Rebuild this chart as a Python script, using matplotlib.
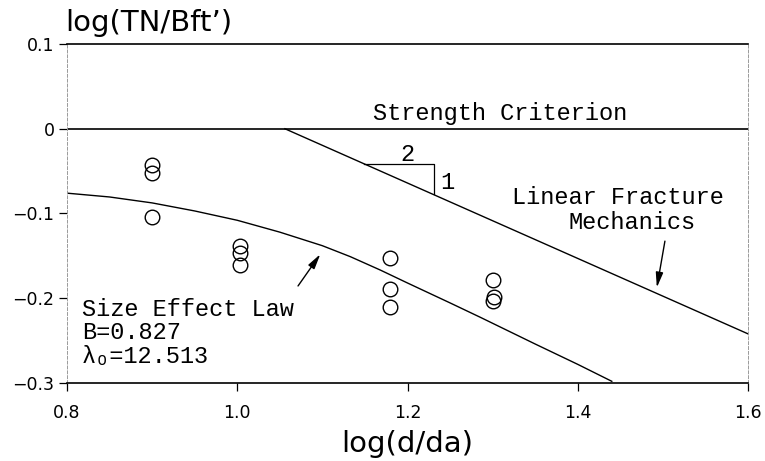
import matplotlib
matplotlib.use("Agg")
import matplotlib.pyplot as plt
from matplotlib.ticker import FixedLocator, FixedFormatter

# ---- data ----
x_tests = [0.9, 0.9, 0.9, 1.003, 1.003, 1.003, 1.179, 1.179, 1.179, 1.300, 1.302, 1.301]
y_tests = [-0.0425, -0.052, -0.104, -0.138, -0.147, -0.161, -0.1525, -0.189, -0.210, -0.178, -0.1985, -0.203]

sel_x = [0.80, 0.85, 0.90, 0.95, 1.00, 1.05, 1.10, 1.133, 1.168, 1.20, 1.25, 1.286, 1.35, 1.40, 1.44]
sel_y = [-0.076, -0.0805, -0.0875, -0.097, -0.108, -0.122, -0.138, -0.151, -0.1667, -0.182,
         -0.2055, -0.2227, -0.254, -0.278, -0.298]

lfm_x = [1.056, 1.6]
lfm_y = [0.0, -0.242]

strength_x = [0.8, 1.6]
strength_y = [0.0, 0.0]

tri_x = [1.149, 1.231, 1.231]
tri_y = [-0.042, -0.042, -0.077]

x_ticks = [0.8, 1.0, 1.2, 1.4, 1.6]
x_tick_labels = ["0.8", "1.0", "1.2", "1.4", "1.6"]
y_ticks = [0.1, 0.0, -0.1, -0.2, -0.3]
y_tick_labels = ["0.1", "0", "\u22120.1", "\u22120.2", "\u22120.3"]

# ---- figure ----
W, H = 765, 461
fig = plt.figure(figsize=(W / 100, H / 100), dpi=100)
ax = fig.add_axes([67 / W, 78 / H, 681 / W, 339 / H])

mono = ["Liberation Mono", "DejaVu Sans Mono", "DejaVu Sans"]
tfs = 17

ax.plot(strength_x, strength_y, color="black", lw=1.2, solid_capstyle="butt")
ax.plot(lfm_x, lfm_y, color="black", lw=1.0)
ax.plot(sel_x, sel_y, color="black", lw=1.0)
ax.plot(tri_x, tri_y, color="black", lw=0.9)
ax.plot(x_tests, y_tests, linestyle="none", marker="o", markersize=10.5,
        markerfacecolor="none", markeredgecolor="black", markeredgewidth=1.0)

ax.set_xlim(0.8, 1.6)
ax.set_ylim(-0.3, 0.1)

ax.xaxis.set_major_locator(FixedLocator(x_ticks))
ax.xaxis.set_major_formatter(FixedFormatter(x_tick_labels))
ax.yaxis.set_major_locator(FixedLocator(y_ticks))
ax.yaxis.set_major_formatter(FixedFormatter(y_tick_labels))
ax.tick_params(axis="both", direction="out", length=6, width=0.9, labelsize=12.5, colors="black")
ax.tick_params(axis="x", pad=9)
ax.tick_params(axis="y", pad=3)

for s in ("top", "bottom"):
    ax.spines[s].set_linewidth(1.2)
for s in ("left", "right"):
    ax.spines[s].set_linewidth(0.7)
    ax.spines[s].set_color("#9a9a9a")
    ax.spines[s].set_linestyle((0, (3, 2)))

# texts
ax.text(1.309, 0.0176, "Strength Criterion", family=mono, fontsize=tfs, ha="center", va="center")
ax.text(1.447, -0.081, "Linear Fracture", family=mono, fontsize=tfs, ha="center", va="center")
ax.text(1.464, -0.111, "Mechanics", family=mono, fontsize=tfs, ha="center", va="center")
ax.text(1.200, -0.0298, "2", family=mono, fontsize=tfs, ha="center", va="center")
ax.text(1.247, -0.0635, "1", family=mono, fontsize=tfs, ha="center", va="center")
ax.text(0.8176, -0.213, "Size Effect Law", family=mono, fontsize=tfs, ha="left", va="center")
ax.text(0.8176, -0.240, "B=0.827", family=mono, fontsize=tfs, ha="left", va="center")
ax.text(0.8176, -0.269, "\u03bb\u2092=12.513", family=mono, fontsize=tfs, ha="left", va="center")

arrow = dict(arrowstyle="-|>,head_length=0.9,head_width=0.22", color="black", lw=1.0,
             shrinkA=0, shrinkB=0)
ax.annotate("", xy=(1.4929, -0.1874), xytext=(1.5024, -0.1326), arrowprops=arrow)
ax.annotate("", xy=(1.0976, -0.148), xytext=(1.0714, -0.1855), arrowprops=arrow)

fig.text(65 / W, 1 - 23 / H, "log(TN/Bft\u2019)", fontsize=21, ha="left", va="center",
         family="DejaVu Sans")
ax.set_xlabel("log(d/da)", fontsize=21, family="DejaVu Sans", labelpad=6)

fig.savefig("out.png", dpi=100)
